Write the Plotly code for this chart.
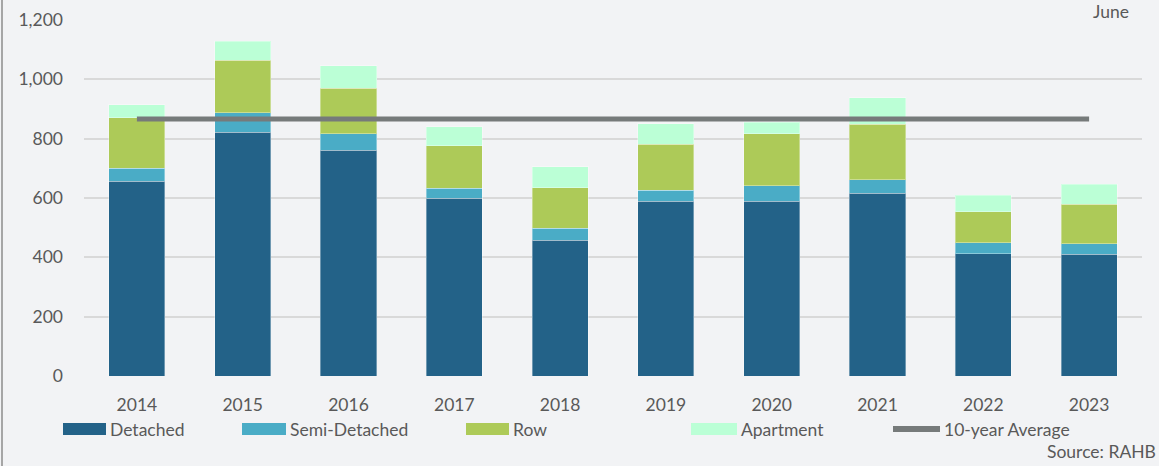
import plotly.graph_objects as go

years = ["2014", "2015", "2016", "2017", "2018", "2019", "2020", "2021", "2022", "2023"]
detached = [656, 821, 761, 599, 458, 589, 589, 616, 412, 411]
semi_detached = [44, 67, 56, 34, 40, 37, 53, 46, 37, 35]
row = [170, 176, 153, 143, 136, 155, 174, 186, 104, 133]
apartment = [44, 65, 75, 64, 72, 70, 39, 90, 57, 67]
ten_year_avg = [866, 866, 866, 866, 866, 866, 866, 866, 866, 866]
y_ticks = [0, 200, 400, 600, 800, 1000, 1200]
y_tick_labels = ["0", "200", "400", "600", "800", "1,000", "1,200"]

C_DET = "#236288"
C_SEMI = "#4aacc6"
C_ROW = "#adca58"
C_APT = "#bbffd6"
C_AVG = "#767a7a"
BG = "#f2f3f5"
FONT = "Lato, sans-serif"
FS = 17.5
TXT = "#595959"

W, H = 1159, 466
L, R, T, B = 84, W - 1142, 20, H - 376
PW, PH = W - L - R, H - T - B


def px(x):
    return (x - L) / PW


def py(y):
    return (H - B - y) / PH


fig = go.Figure()
edge = dict(color="rgba(255,255,255,0.35)", width=1)
for name, vals, col in [("Detached", detached, C_DET), ("Semi-Detached", semi_detached, C_SEMI),
                        ("Row", row, C_ROW), ("Apartment", apartment, C_APT)]:
    fig.add_trace(go.Bar(x=years, y=vals, name=name, marker=dict(color=col, line=edge),
                         showlegend=False))
fig.add_trace(go.Scatter(x=years, y=ten_year_avg, name="10-year Average", mode="lines",
                         line=dict(color=C_AVG, width=5), showlegend=False))

shapes = []
annotations = []
# left frame line
shapes.append(dict(type="line", xref="paper", yref="paper", x0=px(2), x1=px(2), y0=py(H), y1=py(0),
                   line=dict(color="#a6a6a6", width=2)))

legend_items = [
    ("Detached", C_DET, 63, 106, "rect"),
    ("Semi-Detached", C_SEMI, 242, 286, "rect"),
    ("Row", C_ROW, 466, 509, "rect"),
    ("Apartment", C_APT, 691, 737, "rect"),
    ("10-year Average", C_AVG, 893, 940, "line"),
]
ly = 429
for label, col, x0, x1, kind in legend_items:
    if kind == "rect":
        shapes.append(dict(type="rect", xref="paper", yref="paper", x0=px(x0), x1=px(x1),
                           y0=py(ly + 6), y1=py(ly - 6), fillcolor=col, line=dict(width=0)))
    else:
        shapes.append(dict(type="line", xref="paper", yref="paper", x0=px(x0), x1=px(x1),
                           y0=py(ly), y1=py(ly), line=dict(color=col, width=6)))
    annotations.append(dict(text=label, xref="paper", yref="paper", x=px(x1 + 4), y=py(ly),
                            xanchor="left", yanchor="middle", showarrow=False,
                            font=dict(family=FONT, size=FS, color=TXT), xshift=-2))

annotations.append(dict(text="Source: RAHB", xref="paper", yref="paper", x=px(1156), y=py(451),
                        xanchor="right", yanchor="middle", showarrow=False,
                        font=dict(family=FONT, size=FS, color=TXT), xshift=2))
annotations.append(dict(text="June", xref="paper", yref="paper", x=px(1129), y=py(1),
                        xanchor="right", yanchor="top", showarrow=False,
                        font=dict(family=FONT, size=FS, color=TXT), xshift=2, yshift=2))

fig.update_layout(
    width=W, height=H,
    margin=dict(l=L, r=R, t=T, b=B, pad=0, autoexpand=False),
    barmode="stack", bargap=0.47,
    paper_bgcolor=BG, plot_bgcolor=BG,
    font=dict(family=FONT, size=FS, color=TXT),
    shapes=shapes, annotations=annotations,
    showlegend=False,
)
fig.update_xaxes(showgrid=False, showline=False, ticks="", ticklabelstandoff=16, automargin=False,
                 tickfont=dict(family=FONT, size=FS, color=TXT))
fig.update_yaxes(range=[0, 1200], tickvals=y_ticks, ticktext=y_tick_labels, automargin=False,
                 showgrid=True, gridcolor="#d9d9d9", gridwidth=1.5, zeroline=False,
                 showline=False, ticks="", ticklabelstandoff=20,
                 tickfont=dict(family=FONT, size=FS, color=TXT))

fig.write_html("out.html", config={"displayModeBar": False},
               post_script="document.body.style.margin='0';document.body.style.background='" + BG + "';")
